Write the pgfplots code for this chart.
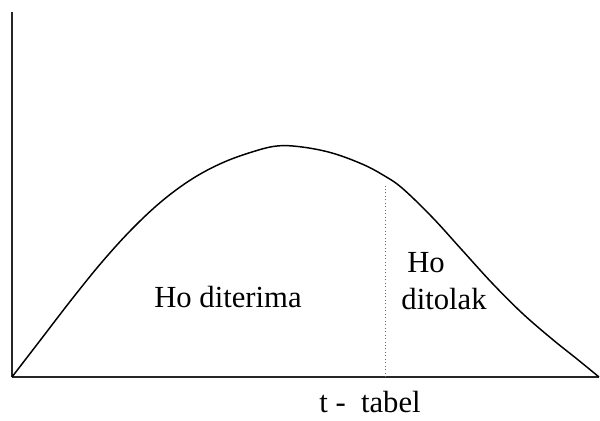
\documentclass[border=0pt]{standalone}
\usepackage{pgfplots}
\pgfplotsset{compat=1.18}
\usepackage{fontspec}
\setmainfont{Liberation Serif}

\begin{document}
\begin{tikzpicture}[lbl/.style={anchor=base, inner sep=0pt, font=\fontsize{23}{27}\selectfont}]
\begin{axis}[
    scale only axis,
    width=440.25pt, height=273.75pt,
    xmin=0, xmax=587, ymin=0, ymax=365,
    axis x line=bottom, axis y line=left,
    axis line style={-, line width=0.8pt, black!85},
    ticks=none,
    clip=false,
]
% distribution curve
\addplot[smooth, tension=0.6, line width=1.1pt, black] coordinates {
    (0,0) (30,39) (60,78) (90,115) (120,148) (150,176) (180,198)
    (210,214) (240,225) (265,231) (290,230) (320,224) (350,213)
    (371,202) (390,189) (420,160) (450,127) (480,94) (510,64)
    (540,38) (565,18) (587,0)
};
% critical value marker
\addplot[dotted, line width=0.6pt, black!60] coordinates {(373,0) (373,194)};

\node[lbl] at (axis cs:216,69) {Ho diterima};
\node[lbl] at (axis cs:414,104) {Ho};
\node[lbl] at (axis cs:432,67) {ditolak};
\node[lbl] at (axis cs:358,-36) {t -\ \ tabel};

% page extent
\path[draw=none] (axis cs:-12,-44) rectangle (axis cs:588,377);
\end{axis}
\end{tikzpicture}
\end{document}
